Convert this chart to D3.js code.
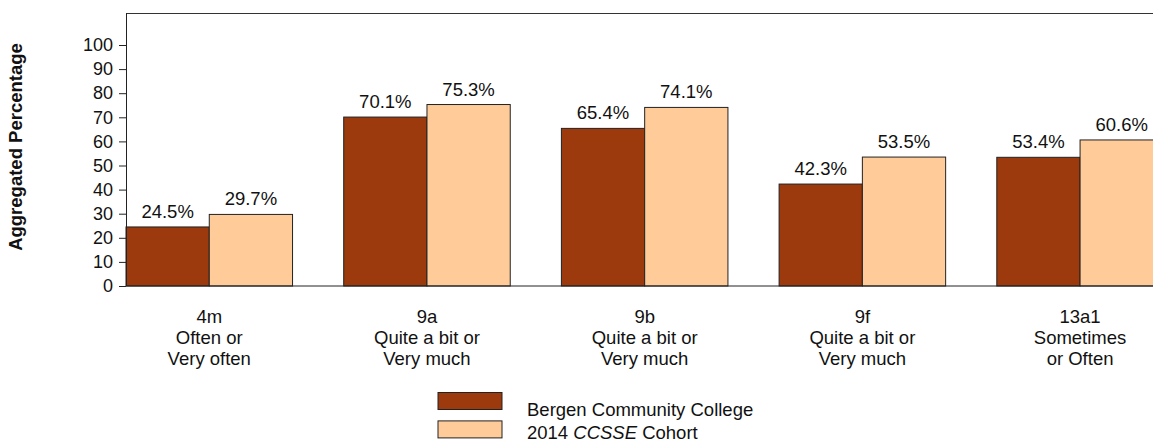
<!DOCTYPE html>
<html>
<head>
<meta charset="utf-8">
<script src="https://cdn.jsdelivr.net/npm/d3@7"></script>
<style>
  body { margin: 0; background: #fff; }
  svg { display: block; font-family: "Liberation Sans", Arial, sans-serif; }
  .tick text { font-size: 18px; fill: #111; }
</style>
</head>
<body>
<svg id="chart" width="1153" height="444"></svg>
<script>
// data
const categories = ["4m", "9a", "9b", "9f", "13a1"];
const categoryLines = [
    ["4m", "Often or", "Very often"],
    ["9a", "Quite a bit or", "Very much"],
    ["9b", "Quite a bit or", "Very much"],
    ["9f", "Quite a bit or", "Very much"],
    ["13a1", "Sometimes", "or Often"]
];
const seriesKeys = ["bergen", "cohort"];
const bergen = [24.5, 70.1, 65.4, 42.3, 53.4];
const cohort = [29.7, 75.3, 74.1, 53.5, 60.6];
const yTicks = [0, 10, 20, 30, 40, 50, 60, 70, 80, 90, 100];

const colors = { bergen: "#9c3a0e", cohort: "#ffcc99" };

const svg = d3.select("#chart");

const plotLeft = 126, plotTop = 13, plotBottom = 286;
const step = 217.7;

// band scale for the groups, inner band for the two bars
const x = d3.scaleBand()
    .domain(categories)
    .range([plotLeft, plotLeft + step * (5 - 0.235)])
    .paddingInner(0.235)
    .paddingOuter(0);

const xInner = d3.scaleBand()
    .domain(seriesKeys)
    .range([0, x.bandwidth()]);

const y = d3.scaleLinear()
    .domain([0, 100])
    .range([plotBottom, 45]);

const rows = categories.map((c, i) => ({ cat: c, bergen: bergen[i], cohort: cohort[i] }));

// bars
const group = svg.append("g")
    .selectAll("g")
    .data(rows)
    .enter().append("g")
    .attr("transform", d => `translate(${x(d.cat)},0)`);

group.selectAll("rect")
    .data(d => seriesKeys.map(k => ({ key: k, value: d[k] })))
    .enter().append("rect")
    .attr("x", d => xInner(d.key))
    .attr("y", d => y(d.value))
    .attr("width", xInner.bandwidth())
    .attr("height", d => y(0) - y(d.value))
    .attr("fill", d => colors[d.key])
    .attr("stroke", "#222")
    .attr("stroke-width", 1);

// value labels above bars
group.selectAll("text.val")
    .data(d => seriesKeys.map(k => ({ key: k, value: d[k] })))
    .enter().append("text")
    .attr("class", "val")
    .attr("x", d => xInner(d.key) + xInner.bandwidth() / 2)
    .attr("y", d => y(d.value) - 9)
    .attr("text-anchor", "middle")
    .style("font-size", "18.5px")
    .style("fill", "#111")
    .text(d => d.value.toFixed(1) + "%");

// frame lines: top, bottom
svg.append("line")
    .attr("x1", plotLeft).attr("x2", 1153)
    .attr("y1", plotTop + 0.5).attr("y2", plotTop + 0.5)
    .attr("stroke", "#333");
svg.append("line")
    .attr("x1", plotLeft).attr("x2", 1153)
    .attr("y1", plotBottom).attr("y2", plotBottom)
    .attr("stroke", "#222");

// y axis
const yAxis = svg.append("g")
    .attr("transform", `translate(${plotLeft},0)`)
    .call(d3.axisLeft(y).tickValues(yTicks).tickSize(7).tickPadding(6));
yAxis.select(".domain").remove();
yAxis.selectAll(".tick line").attr("stroke", "#222");
svg.append("line")
    .attr("x1", plotLeft + 0.5).attr("x2", plotLeft + 0.5)
    .attr("y1", plotTop).attr("y2", plotBottom)
    .attr("stroke", "#222");

// axis title
svg.append("text")
    .attr("transform", "translate(22,147) rotate(-90)")
    .attr("text-anchor", "middle")
    .style("font-size", "18.5px")
    .style("font-weight", "bold")
    .style("fill", "#111")
    .text("Aggregated Percentage");

// category labels, three lines each
const catLabel = svg.append("g")
    .selectAll("text")
    .data(categories)
    .enter().append("text")
    .attr("x", d => x(d) + x.bandwidth() / 2)
    .attr("text-anchor", "middle")
    .style("font-size", "18.5px")
    .style("fill", "#111");

catLabel.selectAll("tspan")
    .data((d, i) => categoryLines[i])
    .enter().append("tspan")
    .attr("x", function () { return this.parentNode.getAttribute("x"); })
    .attr("y", (d, i) => 323 + i * 21)
    .text(d => d);

// legend
const legend = svg.append("g")
    .selectAll("g")
    .data(seriesKeys)
    .enter().append("g")
    .attr("transform", (d, i) => `translate(438,${392.5 + i * 28.4})`);

legend.append("rect")
    .attr("width", 64)
    .attr("height", 17)
    .attr("fill", d => colors[d])
    .attr("stroke", "#222");

// second legend line lifted a little so it fits inside the frame
const legendText = legend.append("text")
    .attr("x", 89)
    .attr("y", (d, i) => i === 0 ? 23 : 18)
    .style("font-size", "18.5px")
    .style("fill", "#111");

legendText.filter(d => d === "bergen").text("Bergen Community College");
const cohortText = legendText.filter(d => d === "cohort");
cohortText.append("tspan").text("2014 ");
cohortText.append("tspan").style("font-style", "italic").text("CCSSE");
cohortText.append("tspan").text(" Cohort");
</script>
</body>
</html>
